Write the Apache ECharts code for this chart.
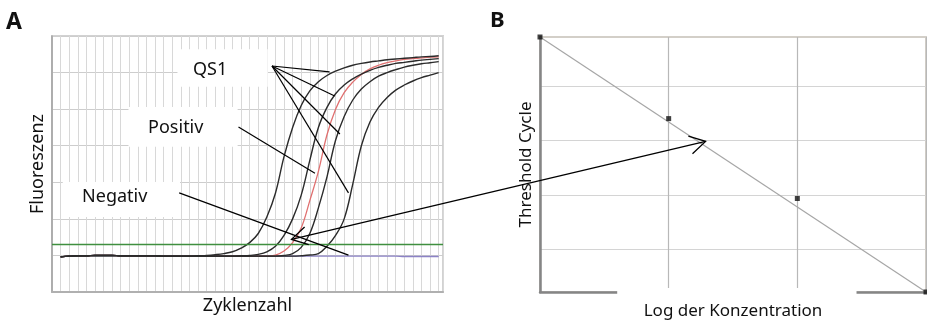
<!DOCTYPE html>
<html>
<head>
<meta charset="utf-8">
<script src="https://cdn.jsdelivr.net/npm/echarts@6/dist/echarts.min.js"></script>
<style>
html, body { margin: 0; padding: 0; background: #fff; }
#chart { width: 927px; height: 326px; }
</style>
</head>
<body>
<div id="chart"></div>
<script>
// --- panel A: amplification curves (cycle vs fluorescence, arbitrary units)
const cycles = [1, 2, 3, 4, 5, 6, 7, 8, 9, 10, 11, 12, 13, 14, 15, 16, 17, 18, 19, 20,
  21, 22, 23, 24, 25, 26, 27, 28, 29, 30, 31, 32, 33, 34, 35, 36, 37, 38, 39, 40,
  41, 42, 43, 44, 45];
const qs1a = [0.96, 0.98, 0.99, 0.99, 1.00, 1.00, 1.00, 0.99, 0.99, 0.99, 0.99, 0.99, 0.98, 0.98, 0.98, 0.98, 0.99, 1.00,
  1.02, 1.05, 1.10, 1.20, 1.35, 1.60, 2.05, 2.70, 3.70, 4.50, 5.10, 5.50, 5.75, 5.92, 6.04, 6.13, 6.20, 6.25,
  6.29, 6.32, 6.35, 6.37, 6.39, 6.41, 6.43, 6.44, 6.46];
const qs1b = [0.96, 0.98, 0.99, 0.99, 1.00, 1.00, 1.00, 0.99, 0.99, 0.99, 0.99, 0.99, 0.98, 0.98, 0.98, 0.98, 0.98, 0.98,
  0.98, 0.98, 0.98, 0.99, 1.00, 1.03, 1.10, 1.25, 1.55, 2.00, 2.65, 3.60, 4.50, 5.05, 5.42, 5.66, 5.83, 5.96,
  6.06, 6.14, 6.20, 6.25, 6.28, 6.31, 6.34, 6.36, 6.38];
const qs1c = [0.96, 0.98, 0.99, 0.99, 1.00, 1.00, 1.00, 0.99, 0.99, 0.99, 0.99, 0.99, 0.98, 0.98, 0.98, 0.98, 0.98, 0.98,
  0.98, 0.98, 0.98, 0.98, 0.98, 0.98, 0.98, 0.98, 1.00, 1.05, 1.22, 1.60, 2.30, 3.15, 4.15, 4.80, 5.25, 5.55,
  5.75, 5.90, 6.00, 6.08, 6.15, 6.20, 6.24, 6.27, 6.30];
const qs1d = [0.96, 0.98, 0.99, 0.99, 1.00, 1.00, 1.00, 0.99, 0.99, 0.99, 0.99, 0.99, 0.98, 0.98, 0.98, 0.98, 0.98, 0.98,
  0.98, 0.98, 0.98, 0.98, 0.98, 0.98, 0.98, 0.98, 0.98, 0.98, 0.99, 1.01, 1.05, 1.25, 1.55, 2.00, 2.95, 4.00,
  4.65, 5.05, 5.32, 5.52, 5.66, 5.77, 5.86, 5.93, 6.00];
const positiv = [0.96, 0.98, 0.99, 0.99, 1.00, 1.00, 1.00, 0.99, 0.99, 0.99, 0.99, 0.99, 0.98, 0.98, 0.98, 0.98, 0.98, 0.98,
  0.98, 0.98, 0.98, 0.98, 0.98, 0.98, 0.98, 1.01, 1.12, 1.35, 1.75, 2.50, 3.30, 4.30, 5.00, 5.45, 5.74, 5.95,
  6.10, 6.20, 6.27, 6.32, 6.36, 6.38, 6.40, 6.42, 6.43];
const negativ = [0.96, 0.98, 0.99, 0.99, 1.00, 1.00, 1.00, 0.99, 0.99, 0.99, 0.99, 0.99, 0.98, 0.98, 0.98, 0.98, 0.98, 0.98,
  0.98, 0.98, 0.98, 0.98, 0.98, 0.98, 0.98, 0.98, 0.98, 0.98, 0.98, 0.98, 0.98, 0.98, 0.98, 0.98, 0.98, 0.98,
  0.98, 0.98, 0.98, 0.98, 0.97, 0.97, 0.97, 0.97, 0.97];
const threshold = 1.31;

// --- panel B: standard curve
const logConc = [0, 1, 2, 3];
const ctValues = [35.0, 30.2, 25.5, 20.0];
const fitConc = [0, 3];
const fitCt = [35.0, 20.0];
const ctGridTicks = [22.5, 25.7, 28.9, 32.1];

const font = 'Noto Sans';
const ink = '#111';
const pairs = (xs, ys) => xs.map((x, i) => [x, ys[i]]);

const chart = echarts.init(document.getElementById('chart'));

const curve = (name, ys, color, width) => ({
  name: name,
  type: 'line',
  xAxisIndex: 0,
  yAxisIndex: 0,
  data: pairs(cycles, ys),
  showSymbol: false,
  smooth: 0.4,
  lineStyle: { color: color, width: width },
  z: 3
});

const negSeries = curve('Negativ', negativ, '#8c82c6', 1.4);
negSeries.markLine = {
  silent: true,
  symbol: ['none', 'none'],
  label: { show: false },
  lineStyle: { color: '#3f8f3f', width: 1.4, type: 'solid' },
  data: [{ yAxis: threshold }]
};

const option = {
  animation: false,
  grid: [
    { left: 52, top: 36, width: 391, height: 256, show: true, borderColor: '#d2d2d2', borderWidth: 2 },
    { left: 540, top: 37, width: 386, height: 255, show: true, borderColor: '#d3cfc8', borderWidth: 2 }
  ],
  xAxis: [
    {
      type: 'value', gridIndex: 0, min: 0, max: 45.5, interval: 1,
      axisLine: { show: true, lineStyle: { color: '#b0b0b0', width: 2 } },
      axisTick: { show: false }, axisLabel: { show: false },
      splitLine: { lineStyle: { color: '#d8d8d8', width: 1 } },
      name: 'Zyklenzahl', nameLocation: 'middle', nameGap: 5,
      nameTextStyle: { fontFamily: font, fontSize: 18, color: ink, verticalAlign: 'top' }
    },
    {
      type: 'value', gridIndex: 1, min: 0, max: 3, interval: 1,
      axisLine: { show: true, lineStyle: { color: '#858585', width: 2.5 } },
      axisTick: { show: false }, axisLabel: { show: false },
      splitLine: { lineStyle: { color: '#b8b8b8', width: 1.2 } },
      name: 'Log der Konzentration', nameLocation: 'middle', nameGap: 11,
      nameTextStyle: { fontFamily: font, fontSize: 17, color: ink, verticalAlign: 'top' }
    }
  ],
  yAxis: [
    {
      type: 'value', gridIndex: 0, min: 0, max: 7, interval: 1,
      axisLine: { show: true, lineStyle: { color: '#a0a0a0', width: 1.5 } },
      axisTick: { show: false }, axisLabel: { show: false },
      splitLine: { lineStyle: { color: '#cdcdcd', width: 1 } },
      name: 'Fluoreszenz', nameLocation: 'middle', nameGap: 5, nameRotate: 90,
      nameTextStyle: { fontFamily: font, fontSize: 18, color: ink }
    },
    {
      type: 'value', gridIndex: 1, min: 20, max: 35,
      axisLine: { show: true, lineStyle: { color: '#858585', width: 2.5 } },
      axisTick: { show: false, customValues: ctGridTicks },
      axisLabel: { show: false, customValues: ctGridTicks },
      splitLine: { lineStyle: { color: '#d4d4d4', width: 1.2 } },
      name: 'Threshold Cycle', nameLocation: 'middle', nameGap: 5, nameRotate: 90,
      nameTextStyle: { fontFamily: font, fontSize: 17, color: ink }
    }
  ],
  series: [
    negSeries,
    curve('Positiv', positiv, '#e07070', 1.3),
    curve('QS1 a', qs1a, '#2b2b2b', 1.4),
    curve('QS1 b', qs1b, '#2b2b2b', 1.4),
    curve('QS1 c', qs1c, '#2b2b2b', 1.4),
    curve('QS1 d', qs1d, '#2b2b2b', 1.4),
    {
      type: 'line', xAxisIndex: 1, yAxisIndex: 1,
      data: pairs(fitConc, fitCt), showSymbol: false,
      lineStyle: { color: '#a6a6a6', width: 1.2 }, z: 3
    },
    {
      type: 'scatter', xAxisIndex: 1, yAxisIndex: 1,
      data: pairs(logConc, ctValues), symbol: 'rect', symbolSize: 5,
      itemStyle: { color: '#111' }, clip: false, z: 4
    }
  ]
};
chart.setOption(option);

// annotations, anchored in data coordinates
const pA = (p) => chart.convertToPixel({ gridIndex: 0 }, p);
const pB = (p) => chart.convertToPixel({ gridIndex: 1 }, p);

const labelBoxes = [
  { text: 'QS1', from: [14.6, 6.64], to: [25.1, 5.61], at: [18.4, 6.07] },
  { text: 'Positiv', from: [8.9, 5.06], to: [21.6, 3.97], at: [14.4, 4.48] },
  { text: 'Negativ', from: [1.25, 3.01], to: [14.9, 2.05], at: [7.3, 2.6] }
];
const leaders = [
  [[25.6, 6.18], [32.3, 6.02]],
  [[25.6, 6.18], [32.9, 5.36]],
  [[25.6, 6.18], [33.5, 4.32]],
  [[25.6, 6.18], [34.5, 2.71]],
  [[21.7, 4.51], [30.6, 3.25]],
  [[14.8, 2.71], [34.5, 1.01]]
];

const g = [];
labelBoxes.forEach((b) => {
  const a = pA(b.from), c = pA(b.to), t = pA(b.at);
  g.push({ type: 'rect', z: 5, shape: { x: a[0], y: a[1], width: c[0] - a[0], height: c[1] - a[1] }, style: { fill: '#fff' } });
  g.push({ type: 'text', z: 6, x: t[0], y: t[1], style: { text: b.text, font: '18px "Noto Sans"', fill: ink, align: 'center', verticalAlign: 'middle' } });
});
leaders.forEach((l) => {
  const a = pA(l[0]), c = pA(l[1]);
  g.push({ type: 'line', z: 7, shape: { x1: a[0], y1: a[1], x2: c[0], y2: c[1] }, style: { stroke: '#000', lineWidth: 1.2 } });
});

// break in the lower axis of panel B behind its title
const gapL = pB([0.6, 20]), gapR = pB([2.46, 20]);
g.push({ type: 'rect', z: 9, shape: { x: gapL[0], y: gapL[1] - 4, width: gapR[0] - gapL[0], height: 8 }, style: { fill: '#fff' } });

// double-headed arrow from the threshold crossing to the standard curve
const tipA = pA([27.87, 1.44]);
const tipB = pB([1.287, 28.86]);
g.push({ type: 'line', z: 7, shape: { x1: tipA[0], y1: tipA[1], x2: tipB[0], y2: tipB[1] }, style: { stroke: '#000', lineWidth: 1.3 } });
function head(tip, other) {
  const ang = Math.atan2(other[1] - tip[1], other[0] - tip[0]);
  const len = 18, spread = Math.PI / 6;
  return {
    type: 'polyline', z: 7,
    shape: { points: [
      [tip[0] + len * Math.cos(ang - spread), tip[1] + len * Math.sin(ang - spread)],
      tip,
      [tip[0] + len * Math.cos(ang + spread), tip[1] + len * Math.sin(ang + spread)]
    ] },
    style: { stroke: '#000', lineWidth: 1.3, fill: null }
  };
}
g.push(head(tipA, tipB));
g.push(head(tipB, tipA));

g.push({ type: 'text', z: 8, x: 6, y: 11, style: { text: 'A', font: 'bold 23px "Noto Sans"', fill: ink } });
g.push({ type: 'text', z: 8, x: 490, y: 10, style: { text: 'B', font: 'bold 22px "Noto Sans"', fill: ink } });

chart.setOption({ graphic: g });
</script>
</body>
</html>
